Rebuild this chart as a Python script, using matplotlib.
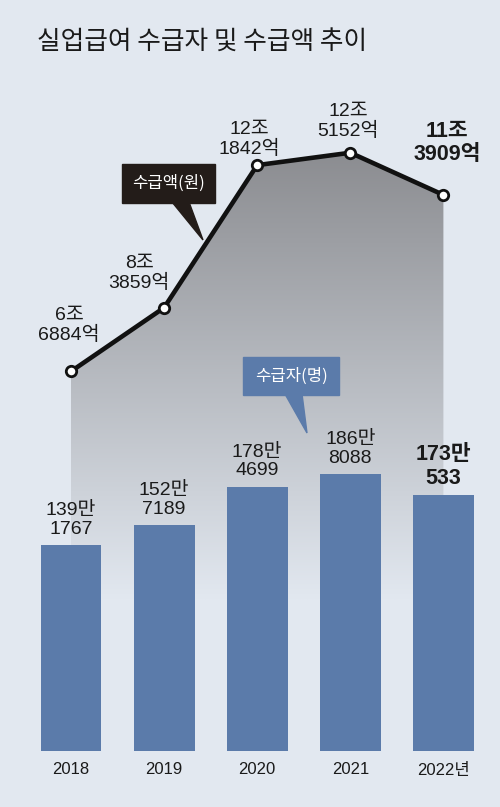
import numpy as np
import matplotlib.pyplot as plt
from matplotlib.patches import Rectangle, Polygon
from matplotlib.colors import to_rgb

# 데이터
years = ['2018', '2019', '2020', '2021', '2022년']
recipients = [1391767, 1527189, 1784699, 1868088, 1730533]  # 수급자(명)
payments = [66884, 83859, 121842, 125152, 113909]  # 수급액(억원)

bg = '#e2e8f0'
bar_color = '#5b7baa'
ink = '#1a1a1a'

plt.rcParams['font.family'] = ['Liberation Sans', 'Noto Sans CJK KR']

W, H = 500, 807
fig = plt.figure(figsize=(W / 100, H / 100), dpi=100)
fig.patch.set_facecolor(bg)


def fx(x):
    return x / W


def fy(y):
    return 1 - y / H


# 아래 축: 수급액 선, 위 축(twin): 수급자 막대
ax = fig.add_axes([0, fy(751), 1, (751 - 100) / H])
ax.set_facecolor('none')
ax2 = ax.twinx()

x = np.arange(len(years))
amt = np.array(payments) / 10000   # 조
ppl = np.array(recipients) / 10000  # 만

# 회색 그라데이션 영역
grad_top, grad_bot = 13.0, 0.6
c0 = np.array(to_rgb('#88898d'))
c1 = np.array(to_rgb(bg))
t = np.linspace(0, 1, 256)[:, None]
img = (c0 * (1 - t) + c1 * t).reshape(256, 1, 3)
im = ax.imshow(img, extent=[x[0], x[-1], grad_bot, grad_top], aspect='auto',
               origin='upper', zorder=1)
verts = list(zip(x, amt)) + [(x[-1], grad_bot), (x[0], grad_bot)]
clip = Polygon(verts, closed=True, facecolor='none', edgecolor='none',
               transform=ax.transData)
ax.add_patch(clip)
im.set_clip_path(clip)

ax.plot(x, amt, color='#111111', lw=3.3, marker='o', ms=7.5, mfc='white',
        mec='#111111', mew=2, zorder=3, solid_capstyle='round')

# 수급액 라벨 (픽셀 오프셋)
amt_offsets = [(-2, 46), (-25, 34), (-8, 26), (-2, 31), (4, 52)]
for i, p in enumerate(payments):
    last = i == len(payments) - 1
    ax.annotate(f'{p // 10000}조\n{p % 10000}억', (x[i], amt[i]),
                xytext=amt_offsets[i], textcoords='offset pixels',
                ha='center', va='center', fontsize=15.5 if last else 14,
                fontweight='bold' if last else 'normal', color=ink,
                linespacing=1.15, zorder=5)

ax.set_xlim(-71 / 93.1, (W - 71) / 93.1)
ax.set_ylim(-3.427, 13.92)
ax.axis('off')

# 막대
ax2.bar(x, ppl, width=0.655, color=bar_color, zorder=2)
for i, p in enumerate(recipients):
    last = i == len(recipients) - 1
    ax2.annotate(f'{p // 10000}만\n{p % 10000}', (x[i], ppl[i]),
                 xytext=(0, 28 if last else 25), textcoords='offset pixels',
                 ha='center', va='center', fontsize=15.5 if last else 14,
                 fontweight='bold' if last else 'normal', color=ink,
                 linespacing=1.15)
    ax2.annotate(years[i], (x[i], 0), xytext=(0, -19),
                 textcoords='offset pixels', ha='center', va='center',
                 fontsize=12, color=ink)
ax2.set_ylim(0, 439.3)
ax2.axis('off')

# 말풍선
def callout(x0, y0, x1, y1, tri, color, label):
    fig.patches.append(Rectangle((fx(x0), fy(y1)), fx(x1 - x0), (y1 - y0) / H,
                                 transform=fig.transFigure, color=color,
                                 zorder=6))
    fig.patches.append(Polygon([(fx(a), fy(b)) for a, b in tri], closed=True,
                               transform=fig.transFigure, color=color,
                               zorder=6))
    fig.text(fx((x0 + x1) / 2), fy((y0 + y1) / 2), label, color='white',
             fontsize=12, ha='center', va='center', zorder=7,
             family=['Noto Sans CJK KR'])


callout(122, 164, 215, 203, [(172, 202), (189, 202), (203, 240)],
        '#231c19', '수급액(원)')
callout(243, 357, 339, 395, [(285, 394), (302, 394), (307, 433)],
        bar_color, '수급자(명)')

fig.text(fx(37), fy(42), '실업급여 수급자 및 수급액 추이', fontsize=18.5,
         ha='left', va='center', color=ink, family=['Noto Sans CJK KR'])

fig.savefig('out.png', dpi=100, facecolor=bg)
